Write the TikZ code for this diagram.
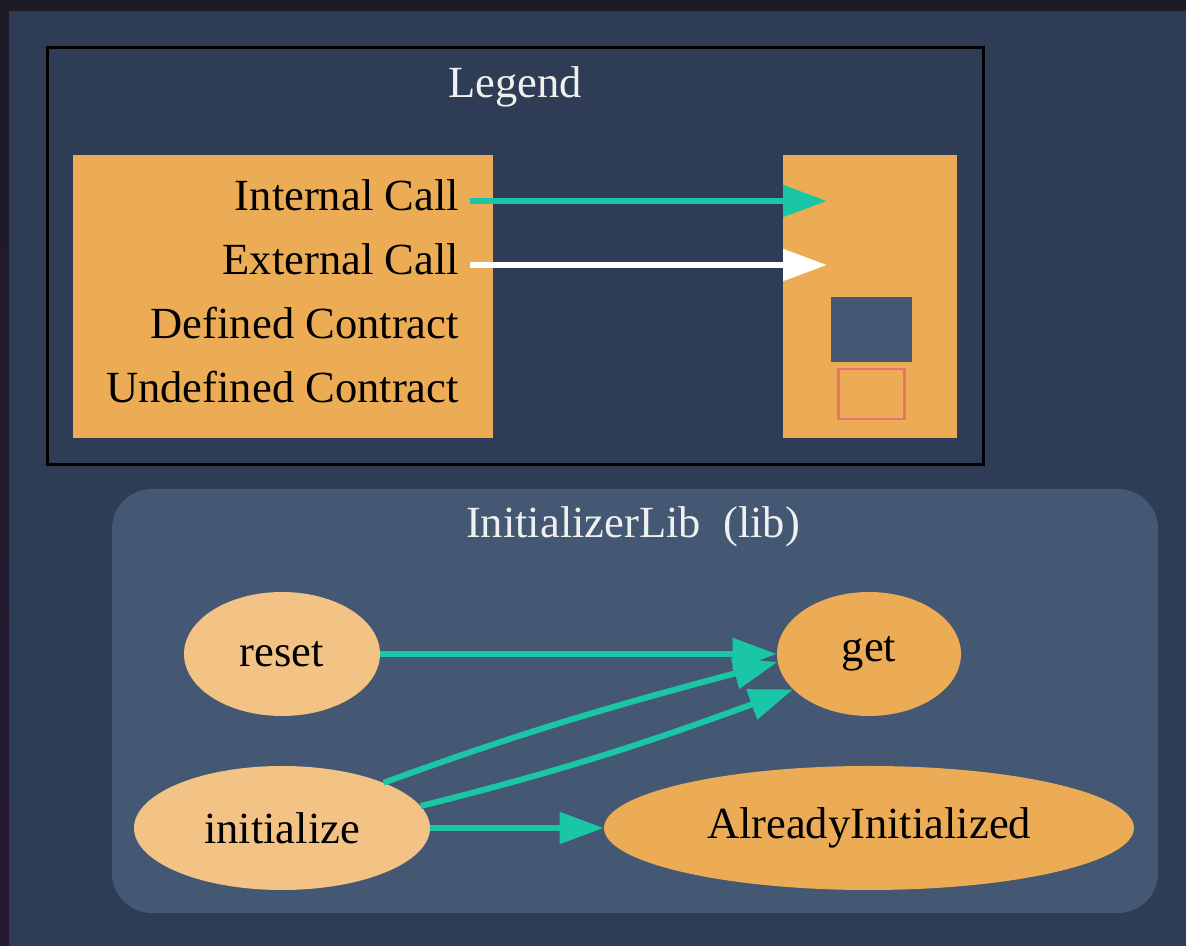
\documentclass[tikz,border=0pt]{standalone}
\usepackage{fontspec}
\setmainfont{Liberation Serif}
\usetikzlibrary{arrows.meta, shapes.geometric, positioning}
\definecolor{bgdark}{HTML}{1C1B26}
\definecolor{bgpurple}{HTML}{261A33}
\definecolor{panelbg}{HTML}{2E3D55}
\definecolor{clusterbg}{HTML}{445773}
\definecolor{funcfill}{HTML}{ECAC55}
\definecolor{funclight}{HTML}{F2C384}
\definecolor{callteal}{HTML}{1BC6A6}
\definecolor{undefred}{HTML}{E8726D}
\definecolor{titlegray}{HTML}{F0F0F0}

\begin{document}
\begin{tikzpicture}[
        x=0.75pt, y=0.75pt,
        font=\fontsize{33.4}{40}\selectfont,
        lgbox/.style={rectangle, fill=funcfill, inner sep=0, minimum height=212.25pt},
        lgtext/.style={text=black, inner sep=0, anchor=base east},
        title/.style={text=titlegray, inner sep=0, anchor=base},
        func/.style={ellipse, inner sep=0, minimum height=93pt, text=black},
        line/.style={line width=4.5pt},
        arr/.style={line, draw=callteal, -{Triangle[length=33pt, width=23pt]}},
        extarr/.style={line, draw=white, -{Triangle[length=33pt, width=23pt]}}
    ]
        \useasboundingbox (0,0) rectangle (1186,946);
        \fill[bgdark] (0,0) rectangle (1186,946);
        \shade[top color=bgdark, bottom color=bgpurple] (0,0) rectangle (9,935);
        \fill[panelbg] (9,0) rectangle (1186,935);

        % legend
        \node[draw=black, line width=2.25pt, minimum width=702pt, minimum height=312.75pt, inner sep=0] (legend) at (515,689.5) {};
        \node[title] (legendtitle) at (515,848) {Legend};
        \node[lgbox, minimum width=315pt]   (keys) at (283,649.5) {};
        \node[lgbox, minimum width=130.5pt] (vals) at (870,649.5) {};
        \node[lgtext] (lint) at (459,735) {Internal Call};
        \node[lgtext] (lext) at (459,671) {External Call};
        \node[lgtext] (ldef) at (459,607) {Defined Contract};
        \node[lgtext] (lund) at (459,543) {Undefined Contract};
        \node[fill=clusterbg, minimum width=60.75pt, minimum height=48.75pt, inner sep=0] (defbox) at (871.5,616.5) {};
        \node[draw=undefred, line width=2.2pt, minimum width=50pt, minimum height=37.5pt, inner sep=0] (undbox) at (871.5,552) {};

        \coordinate (ia) at (470,745);
        \coordinate (ib) at (827,745);
        \coordinate (ea) at (470,681);
        \coordinate (eb) at (827,681);
        \draw[arr]    (ia) -- (ib);
        \draw[extarr] (ea) -- (eb);

        % library cluster
        \node[fill=clusterbg, rounded corners=30pt, minimum width=784.5pt, minimum height=318pt, inner sep=0] (lib) at (635,245) {};
        \node[title] (libtitle) at (633,408) {InitializerLib\ \ (lib)};

        \node[func, fill=funclight, minimum width=147pt]   (reset) at (282,292) {reset};
        \node[func, fill=funcfill,  minimum width=138pt]   (get)   at (869,292) {get};
        \node[func, fill=funclight, minimum width=222pt]   (init)  at (282,118) {initialize};
        \node[func, fill=funcfill,  minimum width=397.5pt] (already) at (869,118) {AlreadyInitialized};

        % internal calls
        \draw[arr] (reset.east) -- (get.west);
        \draw[arr] (init.24.5) to[out=20, in=195] (get.185.6);
        \draw[arr] (init.9) to[out=14, in=200] (get.205.9);
        \draw[arr] (init.east) -- (already.west);
    \end{tikzpicture}
\end{document}
